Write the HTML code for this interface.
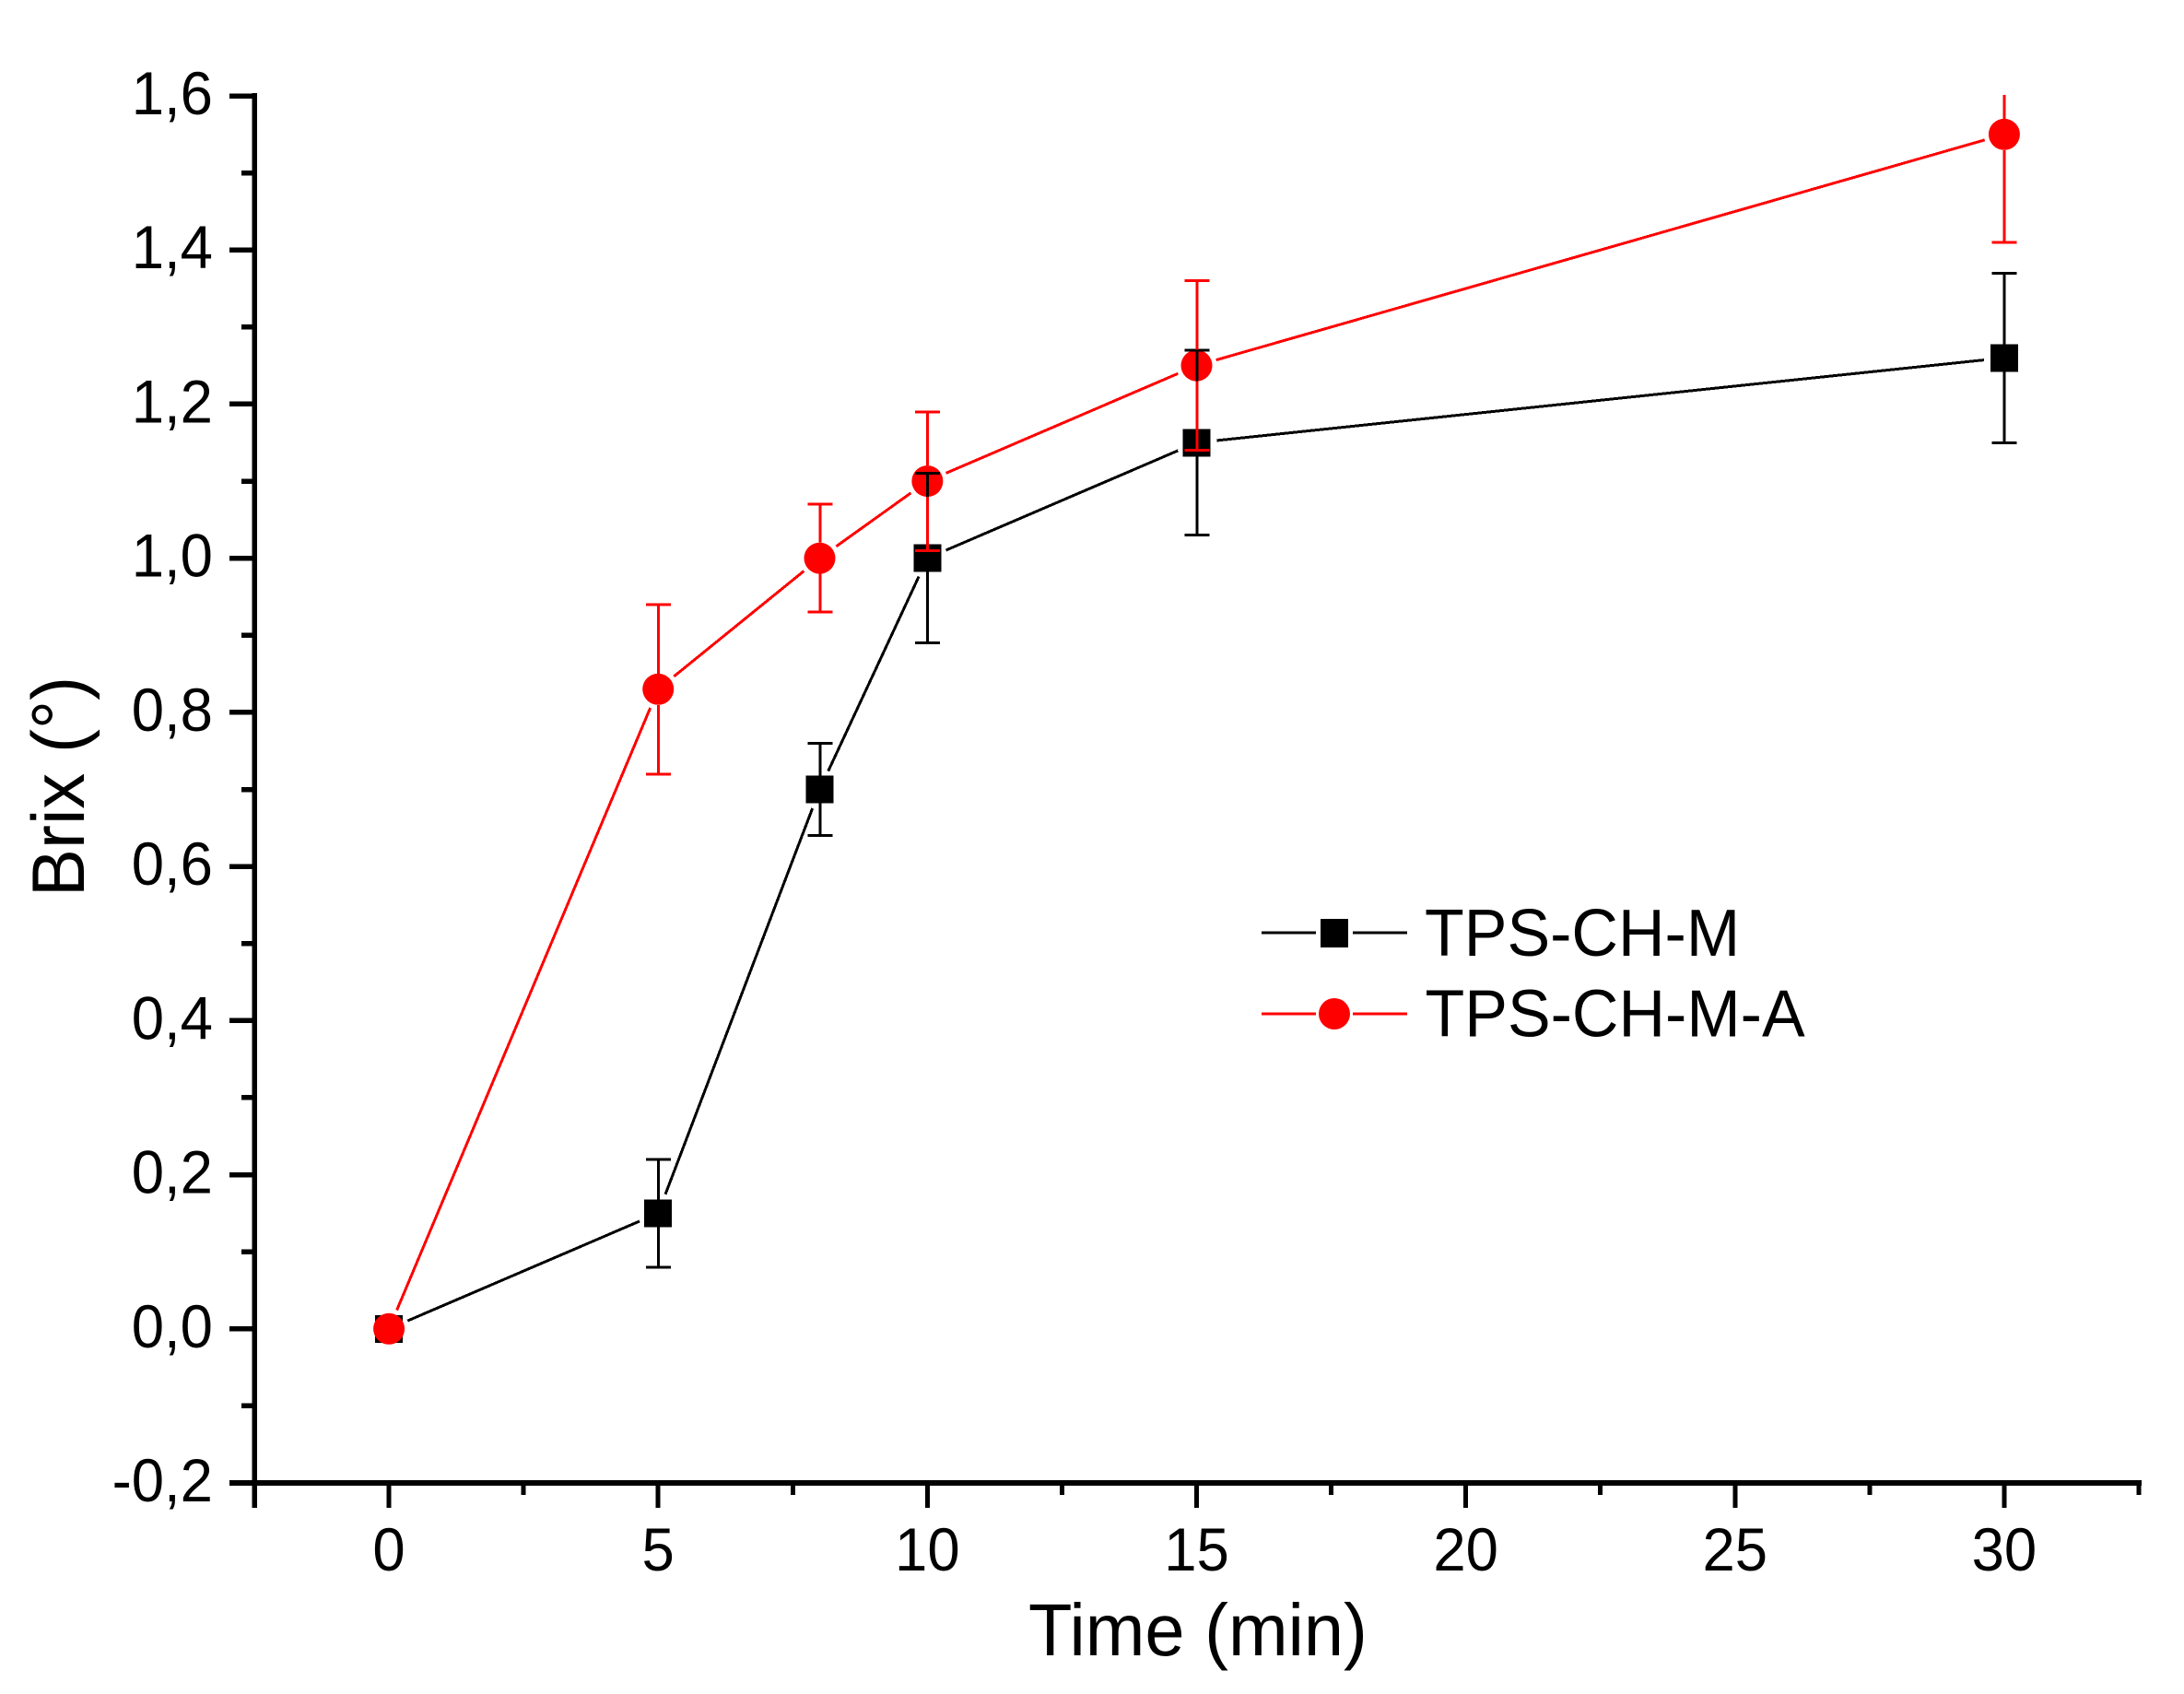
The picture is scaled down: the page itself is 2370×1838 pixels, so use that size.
<!DOCTYPE html>
<html lang="en">
<head>
<meta charset="utf-8">
<title>Brix vs Time</title>
<style>
html,body{margin:0;padding:0;background:#fff;}
svg{display:block;}
text{font-family:"Liberation Sans",Arial,sans-serif;fill:#000;}
</style>
</head>
<body>
<svg id="chart" xmlns="http://www.w3.org/2000/svg" width="2370" height="1838" viewBox="0 0 2370 1838">
  <defs>
    <clipPath id="plot-clip"><rect id="plot-clip-rect" x="0" y="0" width="2370" height="1838"></rect></clipPath>
  </defs>
  <rect x="0" y="0" width="2370" height="1838" fill="#fff"></rect>
  <g id="axes"></g>
  <g id="marks"></g>
  <text transform="translate(1116 1796) scale(1 1.03)" font-size="77.6">Time (min)</text>
  <text transform="translate(91 973) rotate(-90) scale(1 1.03)" font-size="78">Brix (°)</text>
  <g>
    <g>
      <rect x="1369" y="1010.5" width="59" height="3" fill="#000" shape-rendering="crispEdges"></rect>
      <rect x="1468" y="1010.5" width="59" height="3" fill="#000" shape-rendering="crispEdges"></rect>
      <rect x="1433" y="997" width="30" height="31" fill="#000" shape-rendering="crispEdges"></rect>
      <text transform="translate(1546 1037) scale(1 1.04)" font-size="70">TPS-CH-M</text>
    </g>
    <g>
      <rect x="1369" y="1098.5" width="59" height="3" fill="#f00" shape-rendering="crispEdges"></rect>
      <rect x="1468" y="1098.5" width="59" height="3" fill="#f00" shape-rendering="crispEdges"></rect>
      <circle cx="1448" cy="1100" r="17" fill="#f00"></circle>
      <text transform="translate(1546.5 1124.5) scale(1 1.04)" font-size="70">TPS-CH-M-A</text>
    </g>
  </g>
</svg>
<script>
var times = [0, 5, 8, 10, 15, 30];
var blackValues = [0, 0.15, 0.70, 1.00, 1.15, 1.26];
var blackUpper = [0, 0.22, 0.76, 1.11, 1.27, 1.37];
var blackLower = [0, 0.08, 0.64, 0.89, 1.03, 1.15];
var redValues = [0, 0.83, 1.00, 1.10, 1.25, 1.55];
var redUpper = [0, 0.94, 1.07, 1.19, 1.36, 1.69];
var redLower = [0, 0.72, 0.93, 1.01, 1.14, 1.41];
var xMajorTicks = [0, 5, 10, 15, 20, 25, 30];
var xMinorTicks = [-2.5, 2.5, 7.5, 12.5, 17.5, 22.5, 27.5, 32.5];
var yMajorTicks = [-0.2, 0, 0.2, 0.4, 0.6, 0.8, 1.0, 1.2, 1.4, 1.6];
var yMinorTicks = [-0.1, 0.1, 0.3, 0.5, 0.7, 0.9, 1.1, 1.3, 1.5];
var yTickLabels = ["-0,2", "0,0", "0,2", "0,4", "0,6", "0,8", "1,0", "1,2", "1,4", "1,6"];
var xTickLabels = ["0", "5", "10", "15", "20", "25", "30"];

var NS = "http://www.w3.org/2000/svg";
var xMin = -2.5, xMax = 32.5, yMin = -0.2, yMax = 1.6;
var left = 276, right = 2321, top_ = 104, bottom = 1609;

function sx(v) { return left + (v - xMin) / (xMax - xMin) * (right - left); }
function sy(v) { return bottom - (v - yMin) / (yMax - yMin) * (bottom - top_); }

function make(parent, tag, attrs) {
  var el = document.createElementNS(NS, tag);
  for (var k in attrs) { el.setAttribute(k, attrs[k]); }
  parent.appendChild(el);
  return el;
}
function seg(parent, x1, y1, x2, y2, color, width) {
  return make(parent, "line", { x1: x1, y1: y1, x2: x2, y2: y2, stroke: color, "stroke-width": width, "shape-rendering": "crispEdges" });
}

var axes = document.getElementById("axes");
var marks = document.getElementById("marks");
var clipRect = document.getElementById("plot-clip-rect");
clipRect.setAttribute("x", left - 30);
clipRect.setAttribute("y", sy(yMax) - 1);
clipRect.setAttribute("width", right - left + 60);
clipRect.setAttribute("height", sy(yMin) - sy(yMax) + 1);

var yAxisLine = seg(axes, left, top_ - 3, left, bottom + 27, "#000", 5.5);


var xAxisLine = seg(axes, left - 27, bottom, right + 3, bottom, "#000", 6);



yMajorTicks.forEach(function (v, i) {
  var t = seg(axes, left - 27, sy(v), left, sy(v), "#000", 5.5);
  
  
  var label = make(axes, "text", { transform: "translate(231 " + (sy(v) + 20) + ") scale(1 1.04)", "font-size": 63.5, "text-anchor": "end" });
  label.textContent = yTickLabels[i];
  
  
});
yMinorTicks.forEach(function (v) {
  var t = seg(axes, left - 14, sy(v), left, sy(v), "#000", 5.5);
  
  
});
xMajorTicks.forEach(function (v, i) {
  var t = seg(axes, sx(v), bottom, sx(v), 1636, "#000", 5);
  
  
  var label = make(axes, "text", { transform: "translate(" + sx(v) + " 1704) scale(1 1.04)", "font-size": 63.5, "text-anchor": "middle" });
  label.textContent = xTickLabels[i];
  
  
});
xMinorTicks.forEach(function (v) {
  var t = seg(axes, sx(v), bottom, sx(v), 1622, "#000", 5);
  
  
});

var gapPx = 22, capHalf = 13.5, markerR = 17, squareHalf = 15;

function drawLines(values, color, name) {
  var g = make(marks, "g", {});
  
  
  for (var i = 0; i < values.length - 1; i++) {
    var x1 = sx(times[i]), y1 = sy(values[i]), x2 = sx(times[i + 1]), y2 = sy(values[i + 1]);
    var d = Math.sqrt((x2 - x1) * (x2 - x1) + (y2 - y1) * (y2 - y1));
    var ux = (x2 - x1) / d, uy = (y2 - y1) / d;
    var l = make(g, "line", { x1: x1 + ux * gapPx, y1: y1 + uy * gapPx, x2: x2 - ux * gapPx, y2: y2 - uy * gapPx, stroke: color, "stroke-width": 3, "shape-rendering": "crispEdges" });
    
    
  }
}
function drawSquares(values) {
  var g = make(marks, "g", {});
  
  
  values.forEach(function (v, i) {
    var r = make(g, "rect", { x: sx(times[i]) - squareHalf, y: sy(v) - squareHalf, width: squareHalf * 2, height: squareHalf * 2, fill: "#000", "shape-rendering": "crispEdges" });
    
    
  });
}
function drawCircles(values) {
  var g = make(marks, "g", {});
  
  
  values.forEach(function (v, i) {
    var c = make(g, "circle", { cx: sx(times[i]), cy: sy(v), r: markerR, fill: "#f00" });
    
    
  });
}
function drawErrors(values, upper, lower, color, name, skipMarker) {
  var g = make(marks, "g", { "clip-path": "url(#plot-clip)" });
  
  
  values.forEach(function (v, i) {
    if (upper[i] === lower[i]) { return; }
    var x = sx(times[i]) + 0.3, yu = sy(upper[i]), yl = sy(lower[i]), yc = sy(v);
    var parts = skipMarker ? [[yu, yc - markerR], [yc + markerR, yl]] : [[yu, yl]];
    parts.forEach(function (p) {
      var b = seg(g, x, p[0], x, p[1], color, 3);
      
      
    });
    var capTop = seg(g, x - capHalf, yu, x + capHalf, yu, color, 3);
    
    
    var capBottom = seg(g, x - capHalf, yl, x + capHalf, yl, color, 3);
    
    
  });
}

drawLines(blackValues, "#000", "tps-ch-m-line");
drawLines(redValues, "#f00", "tps-ch-m-a-line");
drawSquares(blackValues);
drawCircles(redValues);
drawErrors(blackValues, blackUpper, blackLower, "#000", "tps-ch-m-error-bars", false);
drawErrors(redValues, redUpper, redLower, "#f00", "tps-ch-m-a-error-bars", true);
</script>
</body>
</html>
